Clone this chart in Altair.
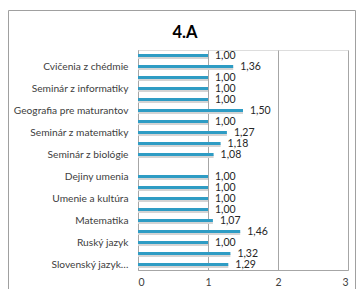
import altair as alt
import pandas as pd

slots = list(range(20))
values = [1.00, 1.36, 1.00, 1.00, 1.00, 1.50, 1.00, 1.27, 1.18, 1.08,
          None, 1.00, 1.00, 1.00, 1.00, 1.07, 1.46, 1.00, 1.32, 1.29]
slot_labels = ["", "Cvičenia z chédmie", "", "Seminár z informatiky", "",
               "Geografia pre maturantov", "", "Seminár z matematiky", "",
               "Seminár z biológie", "", "Dejiny umenia", "", "Umenie a kultúra", "",
               "Matematika", "", "Ruský jazyk", "", "Slovenský jazyk…"]
x_ticks = [0, 1, 2, 3]
title_text = "4.A"

df = pd.DataFrame({"slot": slots, "value": values})
df = df[df["value"].notna()]

FONT = "Lato"
label_js = "[" + ",".join("'" + s + "'" for s in slot_labels) + "]"

y_enc = alt.Y("slot:O", scale=alt.Scale(domain=slots, paddingInner=0, paddingOuter=0),
              axis=alt.Axis(title=None, labelExpr=label_js + "[datum.value]",
                            ticks=False, domain=True, domainColor="#A6A6A6",
                            labelPadding=10, labelFont=FONT, labelFontSize=10.2,
                            labelColor="#404040", labelLimit=200))
x_enc = alt.X("value:Q", scale=alt.Scale(domain=[0, 3], nice=False),
              axis=alt.Axis(title=None, values=x_ticks, format="d", ticks=False, grid=True,
                            gridColor="#A6A6A6", domainColor="#A6A6A6",
                            labelPadding=7, labelFont=FONT, labelFontSize=10.5,
                            labelColor="#404040"))

base = alt.Chart(df)
shadow = base.mark_bar(size=3, color="#D4D4D4", yOffset=2).encode(x=x_enc, y=y_enc)
bars = base.mark_bar(size=3, color="#2E9CC4").encode(x=x_enc, y=y_enc)
texts = base.mark_text(align="left", baseline="middle", dx=7, font=FONT,
                       fontSize=10.5, color="#262626").transform_calculate(
    lbl="replace(format(datum.value, '.2f'), '.', ',')"
).encode(x="value:Q", y=alt.Y("slot:O"), text="lbl:N")

one = alt.Data(values=[{"t": title_text}])
title = alt.Chart(one).mark_text(font=FONT, fontSize=16.5, fontWeight="bold",
                                 color="#000000", align="center", baseline="middle").encode(
    x=alt.value(47), y=alt.value(-17), text="t:N")
frame_left = alt.Chart(one).mark_rule(color="#A0A0A0").encode(
    x=alt.value(-129.5), y=alt.value(-39.5), y2=alt.value(260))
frame_right = alt.Chart(one).mark_rule(color="#A0A0A0").encode(
    x=alt.value(217.5), y=alt.value(-39.5), y2=alt.value(260))
frame_top = alt.Chart(one).mark_rule(color="#A0A0A0").encode(
    x=alt.value(-129.5), x2=alt.value(217.5), y=alt.value(-39.5))

chart = alt.layer(shadow, bars, texts, title, frame_left, frame_right, frame_top).properties(
    width=210, height=220,
    padding={"left": 130, "top": 42, "right": 8, "bottom": 19},
    autosize=alt.AutoSizeParams(type="none"),
).configure_view(stroke=None).configure(background="white")

chart.save("out.html", embed_options={"renderer": "svg", "actions": False})
